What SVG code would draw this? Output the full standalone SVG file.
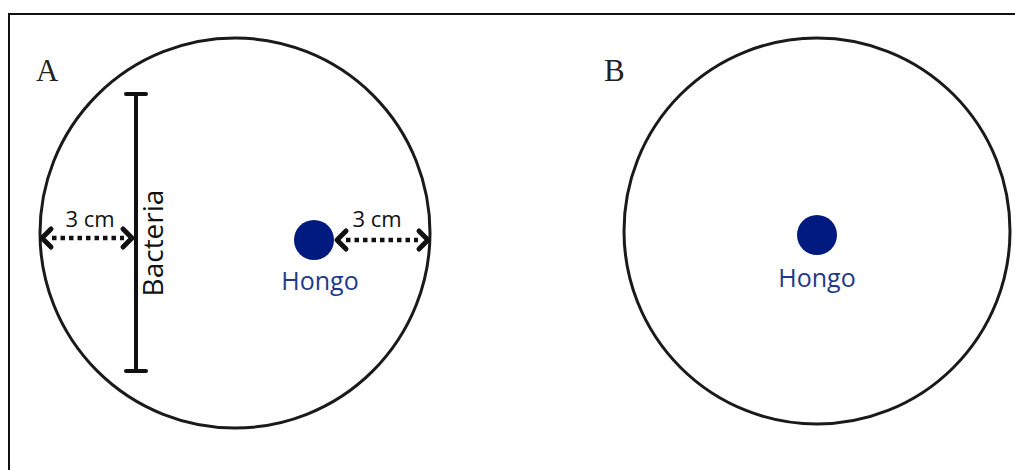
<svg xmlns="http://www.w3.org/2000/svg" width="1015" height="470" viewBox="0 0 1015 470">
  <defs>
    <style>
      .dish { fill: none; stroke: #1a1a1a; stroke-width: 3; }
      .panel { font-family: "Liberation Serif", "Times New Roman", serif; font-size: 31px; fill: #222; }
      .lbl { font-family: "Open Sans", "Noto Sans", sans-serif; fill: #111; }
      .fungus { fill: #001a80; }
      .fungus-lbl { font-family: "Open Sans", "Noto Sans", sans-serif; font-size: 25px; fill: #1f3a8a; text-anchor: middle; }
      .dim { stroke: #111; stroke-width: 4.5; stroke-dasharray: 4.5 4; fill: none; }
      .head { stroke: #111; stroke-width: 5; fill: none; stroke-linecap: round; stroke-linejoin: round; }
    </style>
  </defs>
  <rect x="0" y="0" width="1015" height="470" fill="#fff"/>
  <!-- frame -->
  <path d="M9 470 V14 H1015" fill="none" stroke="#111" stroke-width="2"/>

  <g id="plate-a">
    <circle class="dish" cx="235" cy="233" r="195"/>
    <text class="panel" x="36" y="81">A</text>
  </g>

  <g id="bacteria">
    <path d="M136 94 V371 M126 94 H146 M126 371 H146" stroke="#111" stroke-width="4" fill="none" stroke-linecap="round"/>
    <text class="lbl" font-size="28" transform="translate(163 243) rotate(-90)" text-anchor="middle">Bacteria</text>
  </g>

  <g id="hongo-a">
    <circle class="fungus" cx="314" cy="240" r="20"/>
    <text class="fungus-lbl" x="320" y="290">Hongo</text>
  </g>

  <g id="plate-b">
    <circle class="dish" cx="817" cy="231" r="193"/>
    <text class="panel" x="604" y="81">B</text>
  </g>

  <g id="hongo-b">
    <circle class="fungus" cx="817" cy="235" r="20"/>
    <text class="fungus-lbl" x="817" y="287">Hongo</text>
  </g>

  <g id="connectors">
    <!-- left distance: plate edge to bacteria streak -->
    <line class="dim" x1="52" y1="238" x2="124" y2="238"/>
    <path class="head" d="M51 229 L42 238 L51 247 M123 229 L132 238 L123 247"/>
    <text class="lbl" font-size="22" x="90" y="227" text-anchor="middle">3 cm</text>
    <!-- right distance: fungus to plate edge -->
    <line class="dim" x1="346" y1="240" x2="418" y2="240"/>
    <path class="head" d="M346 231 L337 240 L346 249 M419 231 L428 240 L419 249"/>
    <text class="lbl" font-size="22" x="377" y="227" text-anchor="middle">3 cm</text>
  </g>
</svg>
